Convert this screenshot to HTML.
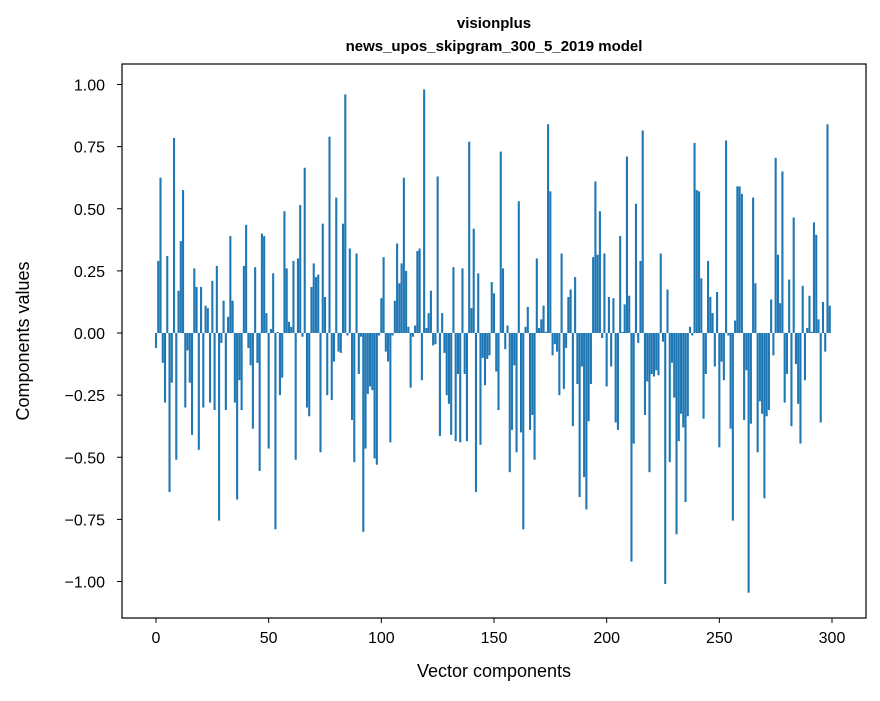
<!DOCTYPE html>
<html><head><meta charset="utf-8"><style>
body{margin:0;background:#fff;}
svg text{font-family:"Liberation Sans",sans-serif;fill:#000;}
</style></head><body>
<svg id="chart" width="880" height="696" viewBox="0 0 880 696" xmlns="http://www.w3.org/2000/svg">
<rect width="880" height="696" fill="#fff"/>
<text x="494" y="28" text-anchor="middle" font-size="15" font-weight="bold">visionplus</text>
<text x="494" y="51" text-anchor="middle" font-size="15" font-weight="bold">news_upos_skipgram_300_5_2019 model</text>
<g id="bars"></g>
<g id="xticks"></g>
<g id="yticks"></g>
<rect x="122" y="64" width="744" height="554" fill="none" stroke="#000" stroke-width="1.2"/>
<text x="494" y="677" text-anchor="middle" font-size="18">Vector components</text>
<text x="0" y="0" text-anchor="middle" font-size="18" transform="translate(29,341) rotate(-90)">Components values</text>
</svg>
<script>
const values = [
-0.06,0.29,0.625,-0.12,-0.28,0.31,-0.64,-0.2,0.785,-0.51,
0.17,0.37,0.575,-0.3,-0.07,-0.2,-0.41,0.26,0.185,-0.47,
0.185,-0.3,0.11,0.1,-0.28,0.21,-0.31,0.27,-0.755,-0.04,
0.13,-0.31,0.065,0.39,0.13,-0.28,-0.67,-0.19,-0.31,0.27,
0.435,-0.06,-0.13,-0.385,0.265,-0.12,-0.555,0.4,0.39,0.08,
-0.465,0.016,0.24,-0.79,0.004,-0.25,-0.18,0.49,0.26,0.045,
0.025,0.29,-0.51,0.3,0.515,-0.015,0.665,-0.3,-0.335,0.185,
0.28,0.225,0.235,-0.48,0.44,0.145,-0.25,0.79,-0.27,-0.115,
0.545,-0.075,-0.08,0.44,0.96,-0.01,0.34,-0.35,-0.52,0.32,
-0.165,-0.015,-0.8,-0.465,-0.245,-0.215,-0.23,-0.505,-0.53,-0.01,
0.14,0.305,-0.075,-0.115,-0.44,-0.01,0.13,0.36,0.2,0.28,
0.625,0.25,0.025,-0.22,-0.015,0.03,0.33,0.34,-0.19,0.98,
0.02,0.08,0.17,-0.05,-0.045,0.63,-0.415,0.08,-0.08,-0.25,
-0.285,-0.41,0.265,-0.435,-0.165,-0.44,0.26,-0.165,-0.435,0.77,
0.1,0.42,-0.64,0.24,-0.45,-0.1,-0.21,-0.105,-0.09,0.205,
0.16,-0.155,-0.31,0.73,0.26,-0.065,0.03,-0.56,-0.39,-0.13,
-0.48,0.53,-0.4,-0.79,0.025,0.105,-0.39,-0.33,-0.51,0.3,
0.02,0.055,0.11,0.005,0.84,0.57,-0.09,-0.045,-0.075,-0.25,
0.32,-0.225,-0.06,0.145,0.175,-0.375,0.225,-0.205,-0.66,-0.135,
-0.58,-0.71,-0.355,-0.205,0.305,0.61,0.315,0.49,-0.02,0.32,
-0.215,0.145,-0.135,0.14,-0.36,-0.39,0.39,0.004,0.115,0.71,
0.15,-0.92,-0.445,0.52,-0.04,0.29,0.815,-0.33,-0.195,-0.56,
-0.165,-0.175,-0.15,-0.17,0.32,-0.035,-1.01,0.175,-0.52,-0.12,
-0.26,-0.81,-0.435,-0.325,-0.38,-0.68,-0.335,0.025,-0.01,0.765,
0.575,0.57,0.22,-0.345,-0.165,0.29,0.145,0.08,-0.135,0.165,
-0.46,-0.115,-0.19,0.775,-0.01,-0.385,-0.755,0.05,0.59,0.59,
0.56,-0.35,-0.15,-1.045,-0.365,0.545,0.2,-0.48,-0.275,-0.325,
-0.665,-0.335,-0.31,0.135,-0.09,0.705,0.315,0.12,0.65,-0.28,
-0.165,0.215,-0.375,0.465,-0.125,-0.285,-0.445,0.19,-0.19,0.02,
0.15,0.005,0.445,0.395,0.055,-0.36,0.125,-0.075,0.84,0.11
];
const xTickValues = [0,50,100,150,200,250,300];
const yTickValues = [1.00,0.75,0.50,0.25,0.00,-0.25,-0.50,-0.75,-1.00];
const yTickLabels = ["1.00","0.75","0.50","0.25","0.00","\u22120.25","\u22120.50","\u22120.75","\u22121.00"];

const NS="http://www.w3.org/2000/svg";
function xScale(v){return 156 + v*(832-156)/300;}
function yScale(v){return 333 - v*248.5;}
const bw = 2.1;
const gb=document.getElementById('bars');
values.forEach((v,i)=>{
  const r=document.createElementNS(NS,'rect');
  const y0=yScale(0), y1=yScale(v);
  r.setAttribute('x', xScale(i)-bw/2);
  r.setAttribute('y', Math.min(y0,y1));
  r.setAttribute('width', bw);
  r.setAttribute('height', Math.max(Math.abs(y1-y0),0.3));
  r.setAttribute('fill','#1f77b4');
  
  
  gb.appendChild(r);
});
const gx=document.getElementById('xticks');
xTickValues.forEach(v=>{
  const x=xScale(v);
  const l=document.createElementNS(NS,'line');
  l.setAttribute('x1',x);l.setAttribute('x2',x);l.setAttribute('y1',618);l.setAttribute('y2',623);
  l.setAttribute('stroke','#000');
  
  
  gx.appendChild(l);
  const t=document.createElementNS(NS,'text');
  t.setAttribute('x',x);t.setAttribute('y',643);t.setAttribute('text-anchor','middle');t.setAttribute('font-size','16');
  t.textContent=String(v);
  
  
  gx.appendChild(t);
});
const gy=document.getElementById('yticks');
yTickValues.forEach((v,i)=>{
  const y=yScale(v);
  const l=document.createElementNS(NS,'line');
  l.setAttribute('x1',117);l.setAttribute('x2',122);l.setAttribute('y1',y);l.setAttribute('y2',y);
  l.setAttribute('stroke','#000');
  
  
  gy.appendChild(l);
  const t=document.createElementNS(NS,'text');
  t.setAttribute('x',105);t.setAttribute('y',y+6);t.setAttribute('text-anchor','end');t.setAttribute('font-size','16');
  t.textContent=yTickLabels[i];
  
  
  gy.appendChild(t);
});
</script>
</body></html>
